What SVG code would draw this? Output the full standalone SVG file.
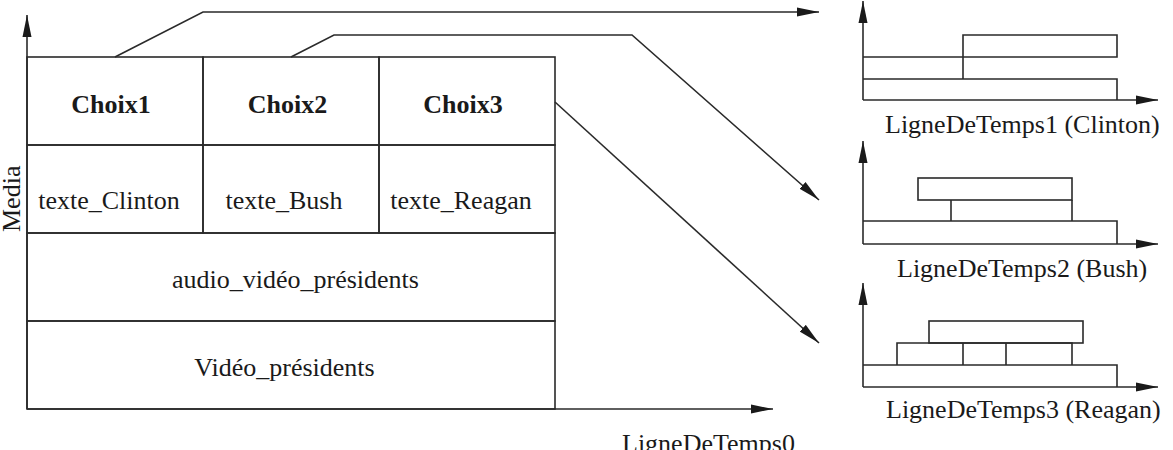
<svg xmlns="http://www.w3.org/2000/svg" width="1173" height="450" viewBox="0 0 1173 450">
<style>
  .ln { fill: none; stroke: #2a2a2a; stroke-width: 1.6; }
  .t { font-family: "Liberation Serif", "Times New Roman", serif; font-size: 26px; fill: #1a1a1a; }
  .b { font-weight: bold; }
  .m { text-anchor: middle; }
</style>
<defs>
  <marker id="ah" markerUnits="userSpaceOnUse" markerWidth="22" markerHeight="10" refX="22" refY="5" orient="auto">
    <path d="M0,0.5 L22,5 L0,9.5 z" fill="#1a1a1a"/>
  </marker>
</defs>
<rect width="1173" height="450" fill="#ffffff"/>

<!-- main axes -->
<g id="axes0">
  <line class="ln" x1="27" y1="409" x2="27" y2="15" marker-end="url(#ah)"/>
  <line class="ln" x1="27" y1="409" x2="773" y2="409" marker-end="url(#ah)"/>
  <text class="t" transform="translate(19.5,232) rotate(-90)">Media</text>
  <text class="t" x="622" y="452">LigneDeTemps0</text>
</g>

<!-- table -->
<g id="choix1">
  <rect class="ln" x="27" y="57" width="176" height="88"/>
  <text class="t b m" x="111" y="113">Choix1</text>
</g>
<g id="choix2">
  <rect class="ln" x="203" y="57" width="176" height="88"/>
  <text class="t b m" x="287.5" y="113">Choix2</text>
</g>
<g id="choix3">
  <rect class="ln" x="379" y="57" width="176" height="88"/>
  <text class="t b m" x="463" y="113">Choix3</text>
</g>
<g id="texte_clinton">
  <rect class="ln" x="27" y="145" width="176" height="88"/>
  <text class="t m" x="109" y="209">texte_Clinton</text>
</g>
<g id="texte_bush">
  <rect class="ln" x="203" y="145" width="176" height="88"/>
  <text class="t m" x="284" y="209">texte_Bush</text>
</g>
<g id="texte_reagan">
  <rect class="ln" x="379" y="145" width="176" height="88"/>
  <text class="t m" x="461" y="209">texte_Reagan</text>
</g>
<g id="audio_video">
  <rect class="ln" x="27" y="233" width="528" height="88"/>
  <text class="t m" x="295.5" y="288">audio_vidéo_présidents</text>
</g>
<g id="video">
  <rect class="ln" x="27" y="321" width="528" height="88"/>
  <text class="t m" x="284.5" y="376">Vidéo_présidents</text>
</g>

<!-- timeline 1 -->
<g id="timeline1">
  <line class="ln" x1="863" y1="100" x2="863" y2="1" marker-end="url(#ah)"/>
  <line class="ln" x1="863" y1="100" x2="1158" y2="100" marker-end="url(#ah)"/>
  <path class="ln" d="M863,79 H1117 V100"/>
  <path class="ln" d="M863,57 H1117 V35 H963 V79"/>
  <text class="t" x="885" y="133">LigneDeTemps1 (Clinton)</text>
</g>

<!-- timeline 2 -->
<g id="timeline2">
  <line class="ln" x1="863" y1="244" x2="863" y2="141" marker-end="url(#ah)"/>
  <line class="ln" x1="863" y1="244" x2="1158" y2="244" marker-end="url(#ah)"/>
  <path class="ln" d="M863,221 H1117 V244"/>
  <rect class="ln" x="918" y="178" width="154" height="22"/>
  <path class="ln" d="M951,200 V221 M1072,200 V221"/>
  <text class="t" x="897" y="277">LigneDeTemps2 (Bush)</text>
</g>

<!-- timeline 3 -->
<g id="timeline3">
  <line class="ln" x1="863" y1="387" x2="863" y2="283" marker-end="url(#ah)"/>
  <line class="ln" x1="863" y1="387" x2="1158" y2="387" marker-end="url(#ah)"/>
  <path class="ln" d="M863,365 H1117 V387"/>
  <path class="ln" d="M897,365 V343 H1072 V365 M963,343 V365 M1006,343 V365"/>
  <rect class="ln" x="929" y="321" width="154" height="22"/>
  <text class="t" x="886" y="418">LigneDeTemps3 (Reagan)</text>
</g>

<!-- connectors -->
<g id="connectors">
  <polyline class="ln" points="115,57 203,12 819,12" marker-end="url(#ah)"/>
  <polyline class="ln" points="291,57 334,35 632,35 819,200" marker-end="url(#ah)"/>
  <line class="ln" x1="555" y1="102" x2="819" y2="343" marker-end="url(#ah)"/>
</g>
</svg>
